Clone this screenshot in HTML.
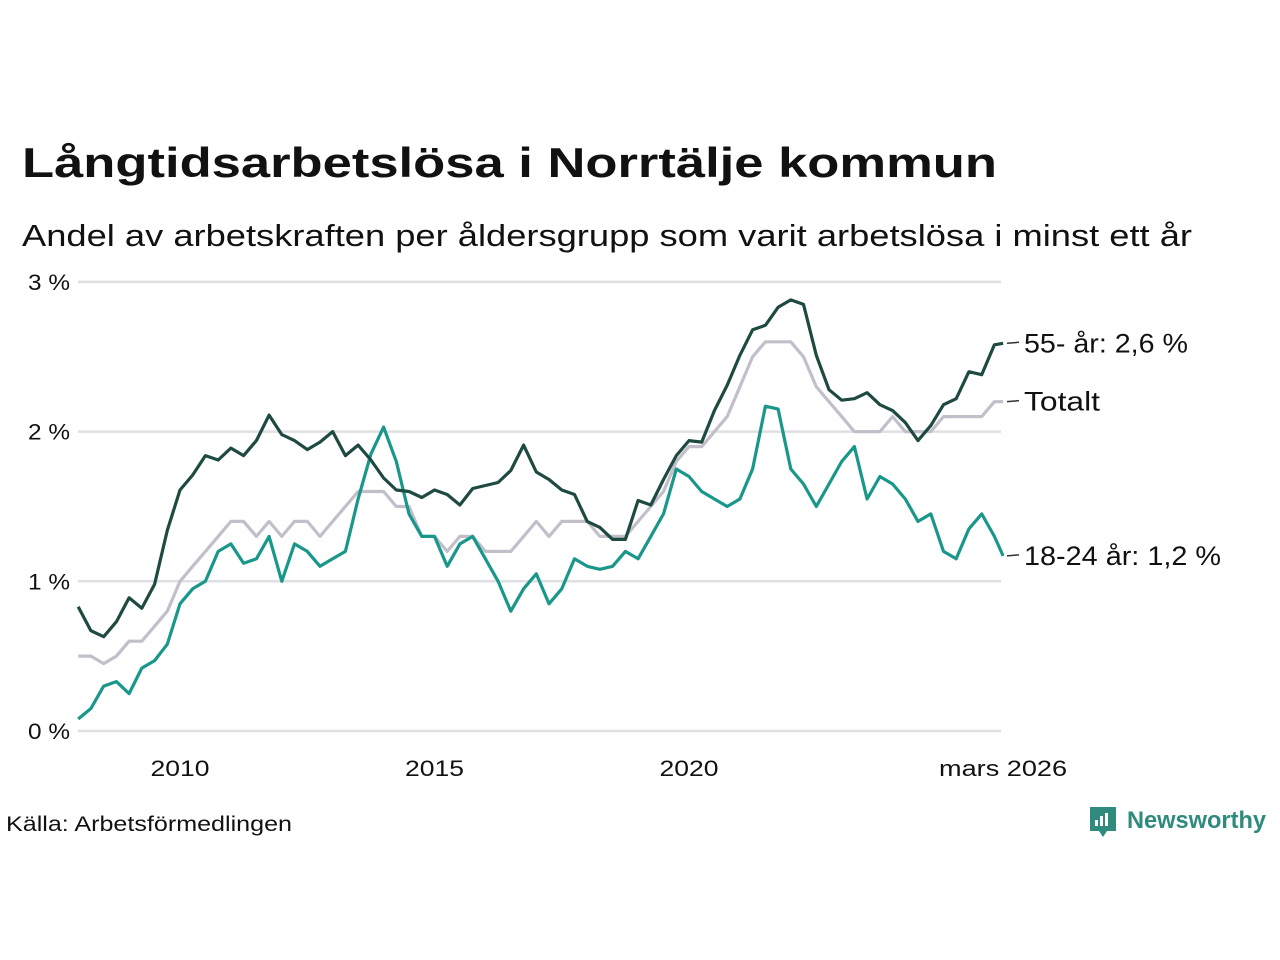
<!DOCTYPE html>
<html><head><meta charset="utf-8"><style>
body{margin:0;background:#fff;}
svg{display:block;font-family:"Liberation Sans",sans-serif;}
</style></head><body>
<svg id="chart" width="1280" height="960" viewBox="0 0 1280 960">
<text x="22" y="177" font-size="42" font-weight="bold" fill="#111" textLength="975" lengthAdjust="spacingAndGlyphs">Långtidsarbetslösa i Norrtälje kommun</text>
<text x="22" y="246" font-size="31" fill="#111" textLength="1170" lengthAdjust="spacingAndGlyphs">Andel av arbetskraften per åldersgrupp som varit arbetslösa i minst ett år</text>
<g id="grid"></g><g id="lines"></g><g id="labels"></g>
<text x="6" y="831" font-size="21" fill="#111" textLength="286" lengthAdjust="spacingAndGlyphs">Källa: Arbetsförmedlingen</text>
<g>
<path d="M1090 807 h26 v24 h-9 l-4 6 l-4 -6 h-9 z" fill="#2e8b7e"/>
<rect x="1095" y="820" width="3" height="6" fill="#fff"/><rect x="1100" y="816" width="3" height="10" fill="#fff"/><rect x="1105" y="813" width="3" height="13" fill="#fff"/>
<text x="1127" y="828" font-size="24" font-weight="bold" fill="#2e8b7e" textLength="139" lengthAdjust="spacingAndGlyphs">Newsworthy</text>
</g>
</svg>
<script>
const dates=[2008,2008.25,2008.5,2008.75,2009,2009.25,2009.5,2009.75,2010,2010.25,2010.5,2010.75,2011,2011.25,2011.5,2011.75,2012,2012.25,2012.5,2012.75,2013,2013.25,2013.5,2013.75,2014,2014.25,2014.5,2014.75,2015,2015.25,2015.5,2015.75,2016,2016.25,2016.5,2016.75,2017,2017.25,2017.5,2017.75,2018,2018.25,2018.5,2018.75,2019,2019.25,2019.5,2019.75,2020,2020.25,2020.5,2020.75,2021,2021.25,2021.5,2021.75,2022,2022.25,2022.5,2022.75,2023,2023.25,2023.5,2023.75,2024,2024.25,2024.5,2024.75,2025,2025.25,2025.5,2025.75,2026,2026.17];
const total=[0.5,0.5,0.45,0.5,0.6,0.6,0.7,0.8,1.0,1.1,1.2,1.3,1.4,1.4,1.3,1.4,1.3,1.4,1.4,1.3,1.4,1.5,1.6,1.6,1.6,1.5,1.5,1.3,1.3,1.2,1.3,1.3,1.2,1.2,1.2,1.3,1.4,1.3,1.4,1.4,1.4,1.3,1.3,1.3,1.4,1.5,1.6,1.8,1.9,1.9,2.0,2.1,2.3,2.5,2.6,2.6,2.6,2.5,2.3,2.2,2.1,2.0,2.0,2.0,2.1,2.0,2.0,2.0,2.1,2.1,2.1,2.1,2.2,2.2];
const age55=[0.83,0.67,0.63,0.73,0.89,0.82,0.98,1.34,1.61,1.71,1.84,1.81,1.89,1.84,1.94,2.11,1.98,1.94,1.88,1.93,2.0,1.84,1.91,1.81,1.69,1.61,1.6,1.56,1.61,1.58,1.51,1.62,1.64,1.66,1.74,1.91,1.73,1.68,1.61,1.58,1.4,1.36,1.28,1.28,1.54,1.51,1.68,1.84,1.94,1.93,2.14,2.31,2.51,2.68,2.71,2.83,2.88,2.85,2.51,2.28,2.21,2.22,2.26,2.18,2.14,2.06,1.94,2.04,2.18,2.22,2.4,2.38,2.58,2.59];
const age1824=[0.08,0.15,0.3,0.33,0.25,0.42,0.47,0.58,0.85,0.95,1.0,1.2,1.25,1.12,1.15,1.3,1.0,1.25,1.2,1.1,1.15,1.2,1.55,1.85,2.03,1.8,1.45,1.3,1.3,1.1,1.25,1.3,1.15,1.0,0.8,0.95,1.05,0.85,0.95,1.15,1.1,1.08,1.1,1.2,1.15,1.3,1.45,1.75,1.7,1.6,1.55,1.5,1.55,1.75,2.17,2.15,1.75,1.65,1.5,1.65,1.8,1.9,1.55,1.7,1.65,1.55,1.4,1.45,1.2,1.15,1.35,1.45,1.3,1.17];
const yTicks=[0,1,2,3];
const yTickLabels=["0 %","1 %","2 %","3 %"];
const xTicks=[2010,2015,2020,2026.17];
const xTickLabels=["2010","2015","2020","mars 2026"];
const NS="http://www.w3.org/2000/svg";
const X=d=>180+(d-2010)*50.9;
const Y=v=>731-v*149.7;
function mk(tag,attrs,parent,text){const e=document.createElementNS(NS,tag);for(const k in attrs)e.setAttribute(k,attrs[k]);if(text!==undefined)e.textContent=text;parent.appendChild(e);return e;}
const grid=document.getElementById('grid');
yTicks.forEach((t,i)=>{
 const l=mk('line',{x1:78,x2:1001,y1:Y(t),y2:Y(t),stroke:'#e0dfe3','stroke-width':2.5},grid);
 
 
 const tx=mk('text',{x:70,y:Y(t)+8,'font-size':22,'text-anchor':'end',fill:'#111',textLength:42,lengthAdjust:'spacingAndGlyphs'},grid,yTickLabels[i]);
 
 
});
xTicks.forEach((t,i)=>{
 const w=xTickLabels[i].length>4?128:59;
 const tx=mk('text',{x:X(t),y:776,'font-size':22,'text-anchor':'middle',fill:'#111',textLength:w,lengthAdjust:'spacingAndGlyphs'},grid,xTickLabels[i]);
 
 
});
const lines=document.getElementById('lines');
function draw(vals,color,name){
 const d=vals.map((v,i)=>(i?'L':'M')+X(dates[i]).toFixed(1)+' '+Y(v).toFixed(1)).join(' ');
 const p=mk('path',{d:d,fill:'none',stroke:color,'stroke-width':3.2,'stroke-linejoin':'round'},lines);
 
 
}
draw(total,'#c2bfcb','line-totalt');
draw(age1824,'#18978a','line-18-24');
draw(age55,'#1e4a42','line-55');
const labels=document.getElementById('labels');
function lab(vals,text,name,w){
 const v=vals[vals.length-1];const y=Y(v);
 mk('line',{x1:1007,x2:1019,y1:y,y2:y-1,stroke:'#333','stroke-width':1.5},labels);
 const t=mk('text',{x:1024,y:y+9,'font-size':27,fill:'#111',textLength:w,lengthAdjust:'spacingAndGlyphs'},labels,text);
 
 
}
lab(age55,'55- år: 2,6 %','label-55',164);
lab(total,'Totalt','label-totalt',76);
lab(age1824,'18-24 år: 1,2 %','label-18-24',197);
</script>
</body></html>
